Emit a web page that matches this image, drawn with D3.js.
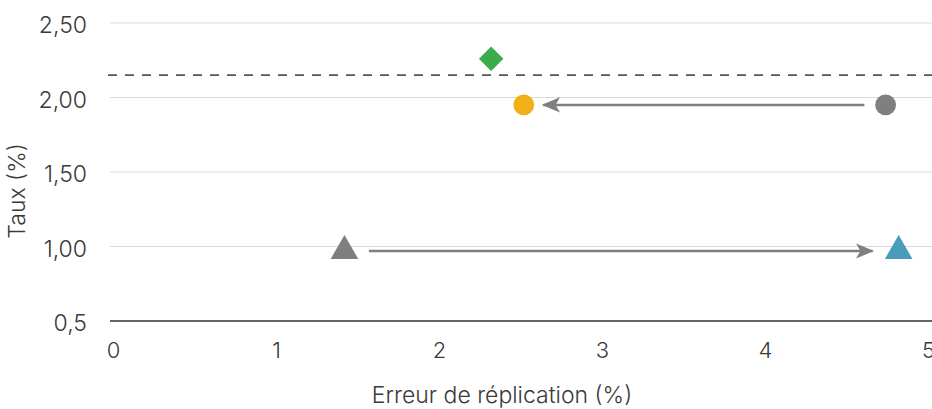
<!DOCTYPE html>
<html>
<head>
<meta charset="utf-8">
<script src="https://cdn.jsdelivr.net/npm/d3@7"></script>
<style>
  html, body { margin: 0; padding: 0; background: #fff; }
  svg text { font-family: "Inter", "Open Sans", sans-serif; font-weight: 300; fill: #3a3a3a; }
</style>
</head>
<body>
<svg id="chart" width="932" height="409"></svg>
<script>
// Tick values and labels
const xTicks = [0, 1, 2, 3, 4, 5];
const yTicks = [0.5, 1.0, 1.5, 2.0, 2.5];
const yTickLabels = ["0,5", "1,00", "1,50", "2,00", "2,50"];

// Reference rate (dashed line)
const refRate = 2.15;

// Points: replication error (x) and rate (y)
const pointNames = ["diamant", "cercle_jaune", "cercle_gris", "triangle_gris", "triangle_bleu"];
const pointX = [2.32, 2.52, 4.74, 1.42, 4.82];
const pointY = [2.26, 1.95, 1.95, 0.97, 0.97];
const pointShape = ["diamond", "circle", "circle", "triangle", "triangle"];
const pointColor = ["#3aac4b", "#f0b017", "#7f7f7f", "#7f7f7f", "#4b9bbd"];

// Arrows between states
const arrowX1 = [4.61, 1.57];
const arrowX2 = [2.64, 4.66];
const arrowY = [1.95, 0.97];

const svg = d3.select("#chart");
const W = 932, H = 409;

const x = d3.scaleLinear().domain([0, 5]).range([113, 928]);
const y = d3.scaleLinear().domain([0.5, 2.5]).range([321, 23]);

// Gridlines
svg.append("g")
  .selectAll("line")
  .data(yTicks.slice(1))
  .join("line")
  .attr("x1", 110).attr("x2", W)
  .attr("y1", d => y(d)).attr("y2", d => y(d))
  .attr("stroke", "#d9d9d9").attr("stroke-width", 1);

// Y axis labels
const yAxis = d3.axisLeft(y).tickValues(yTicks)
  .tickFormat((d, i) => yTickLabels[i]).tickSize(0).tickPadding(0);
const gy = svg.append("g").attr("transform", "translate(87,0)").call(yAxis);
gy.select(".domain").remove();
gy.selectAll("text").attr("font-size", 23).attr("dy", "0.42em")
  .style("font-family", "Inter, 'Open Sans', sans-serif").style("font-weight", 300);

// X axis baseline and labels
svg.append("line")
  .attr("x1", 110).attr("x2", W)
  .attr("y1", y(0.5)).attr("y2", y(0.5))
  .attr("stroke", "#333").attr("stroke-width", 1.3);

const xAxis = d3.axisBottom(x).tickValues(xTicks).tickFormat(d3.format("d")).tickSize(0).tickPadding(0);
const gx = svg.append("g").attr("transform", `translate(0,${y(0.5)})`).call(xAxis);
gx.select(".domain").remove();
gx.selectAll("text").attr("font-size", 22).attr("y", 37).attr("dy", 0)
  .style("font-family", "Inter, 'Open Sans', sans-serif").style("font-weight", 300);

// Axis titles
svg.append("text")
  .attr("x", 502).attr("y", 403)
  .attr("text-anchor", "middle").attr("font-size", 23)
  .text("Erreur de réplication (%)");

svg.append("text")
  .attr("transform", "translate(25,191) rotate(-90)")
  .attr("text-anchor", "middle").attr("font-size", 23)
  .text("Taux (%)");

// Dashed reference line
svg.append("line")
  .attr("x1", 108).attr("x2", W)
  .attr("y1", y(refRate)).attr("y2", y(refRate))
  .attr("stroke", "#555").attr("stroke-width", 1.6)
  .attr("stroke-dasharray", "9,8");

// Arrow head marker
const defs = svg.append("defs");
defs.append("marker")
  .attr("id", "head")
  .attr("viewBox", "0 0 12 10")
  .attr("refX", 11).attr("refY", 5)
  .attr("markerWidth", 7).attr("markerHeight", 6)
  .attr("markerUnits", "strokeWidth")
  .attr("orient", "auto")
  .append("path")
  .attr("d", "M0,0 L12,5 L0,10 L3,5 Z")
  .attr("fill", "#7f7f7f");

svg.append("g")
  .selectAll("line")
  .data(arrowX1.map((d, i) => i))
  .join("line")
  .attr("x1", i => x(arrowX1[i])).attr("x2", i => x(arrowX2[i]))
  .attr("y1", i => y(arrowY[i])).attr("y2", i => y(arrowY[i]))
  .attr("stroke", "#7f7f7f").attr("stroke-width", 2.6)
  .attr("marker-end", "url(#head)");

// Points
const symbolFor = { diamond: d3.symbolSquare, circle: d3.symbolCircle, triangle: d3.symbolTriangle };
const sizeFor = { diamond: 300, circle: 340, triangle: 330 };
svg.append("g")
  .selectAll("path")
  .data(pointX.map((d, i) => i))
  .join("path")
  .attr("transform", i => `translate(${x(pointX[i])},${y(pointY[i])})` + (pointShape[i] === "diamond" ? " rotate(45)" : ""))
  .attr("d", i => d3.symbol().type(symbolFor[pointShape[i]]).size(sizeFor[pointShape[i]])())
  .attr("fill", i => pointColor[i]);
</script>
</body>
</html>
